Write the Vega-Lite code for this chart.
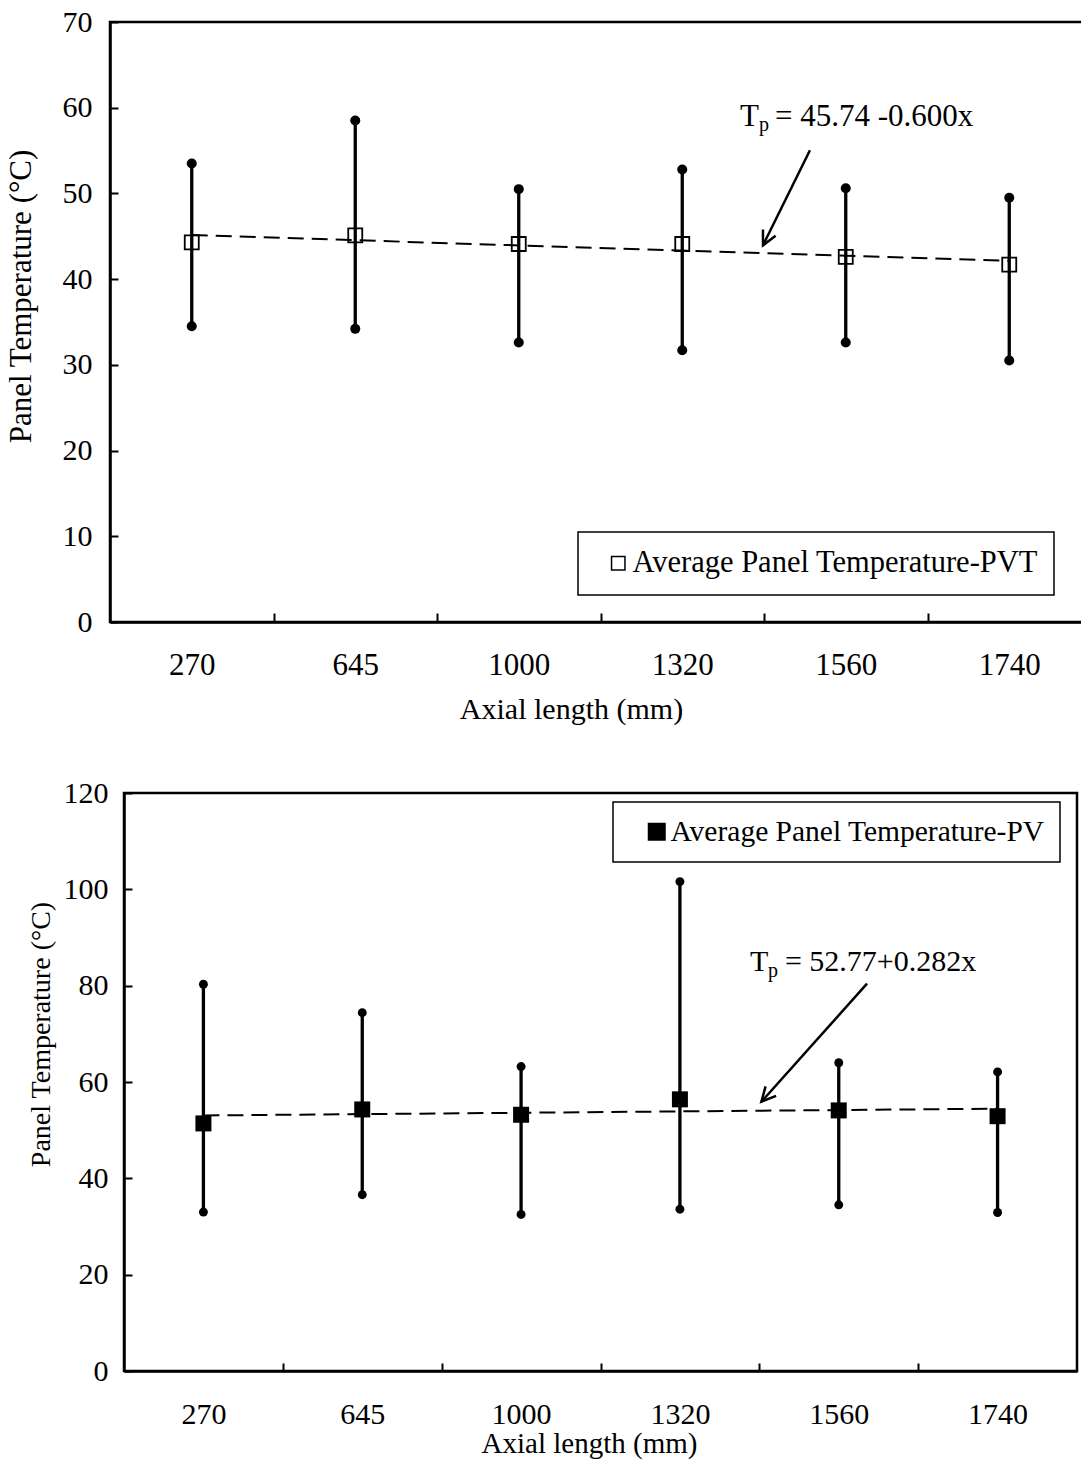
{
  "$schema": "https://vega.github.io/schema/vega-lite/v6.json",
  "padding": {"left": 3, "top": 5, "right": 0, "bottom": 0},
  "config": {
    "font": "Liberation Serif",
    "view": {"stroke": "black", "strokeWidth": 2.5},
    "axis": {"domainColor": "black", "domainWidth": 2.5, "tickColor": "black", "tickWidth": 2, "labelColor": "black", "titleColor": "black", "grid": false, "labelFont": "Liberation Serif", "titleFont": "Liberation Serif", "titleFontWeight": "normal"},
    "legend": {"strokeWidth": 1.5, "cornerRadius": 0}
  },
  "datasets": {
    "pvt": [
      {"idx": 1, "mean": 44.3, "min": 34.5, "max": 53.5, "series": "Average Panel Temperature-PVT"},
      {"idx": 2, "mean": 45.1, "min": 34.2, "max": 58.5, "series": "Average Panel Temperature-PVT"},
      {"idx": 3, "mean": 44.1, "min": 32.6, "max": 50.5, "series": "Average Panel Temperature-PVT"},
      {"idx": 4, "mean": 44.1, "min": 31.7, "max": 52.8, "series": "Average Panel Temperature-PVT"},
      {"idx": 5, "mean": 42.6, "min": 32.6, "max": 50.6, "series": "Average Panel Temperature-PVT"},
      {"idx": 6, "mean": 41.7, "min": 30.5, "max": 49.5, "series": "Average Panel Temperature-PVT"}
    ],
    "pvtTrend": [{"idx": 1, "t": 45.14}, {"idx": 6, "t": 42.14}],
    "pvtEq": [{"idx": 4.353, "val": 57.83, "label": "T"}, {"idx": 4.567, "val": 57.83, "label": "= 45.74 -0.600x"}],
    "pvtSub": [{"idx": 4.469, "val": 57.24, "label": "p"}],
    "pvtArrow": [{"idx": 4.781, "val": 55.03, "idx2": 4.494, "val2": 43.95}],
    "pvtHead": [{"idx": 4.494, "val": 43.95}],
    "pv": [
      {"idx": 1, "mean": 51.4, "min": 33.0, "max": 80.3, "series": "Average Panel Temperature-PV"},
      {"idx": 2, "mean": 54.3, "min": 36.6, "max": 74.4, "series": "Average Panel Temperature-PV"},
      {"idx": 3, "mean": 53.2, "min": 32.5, "max": 63.2, "series": "Average Panel Temperature-PV"},
      {"idx": 4, "mean": 56.4, "min": 33.6, "max": 101.6, "series": "Average Panel Temperature-PV"},
      {"idx": 5, "mean": 54.1, "min": 34.5, "max": 64.0, "series": "Average Panel Temperature-PV"},
      {"idx": 6, "mean": 52.9, "min": 32.9, "max": 62.1, "series": "Average Panel Temperature-PV"}
    ],
    "pvTrend": [{"idx": 1, "t": 53.05}, {"idx": 6, "t": 54.46}],
    "pvEq": [{"idx": 4.441, "val": 83.04, "label": "T"}, {"idx": 4.661, "val": 83.04, "label": "= 52.77+0.282x"}],
    "pvSub": [{"idx": 4.555, "val": 81.8, "label": "p"}],
    "pvArrow": [{"idx": 5.178, "val": 80.41, "idx2": 4.513, "val2": 55.91}],
    "pvHead": [{"idx": 4.513, "val": 55.91}]
  },
  "vconcat": [
    {
      "width": 981,
      "height": 600,
      "encoding": {
        "x": {
          "field": "idx", "type": "quantitative",
          "scale": {"domain": [0.5, 6.5], "nice": false, "zero": false},
          "axis": {
            "title": "Axial length (mm)",
            "values": [1, 1.5, 2, 2.5, 3, 3.5, 4, 4.5, 5, 5.5, 6],
            "labelExpr": "datum.value % 1 === 0 ? ['270','645','1000','1320','1560','1740'][datum.value - 1] : ''",
            "tickOpacity": {"condition": {"test": "datum.value % 1 === 0", "value": 0}, "value": 1},
            "tickSize": -9, "labelFontSize": 31, "labelPadding": 37, "labelOverlap": false, "labelFlush": false,
            "titleFontSize": 30, "titlePadding": 14, "titleX": 461, "titleAlign": "center"
          }
        }
      },
      "layer": [
        {
          "data": {"name": "pvt"},
          "mark": {"type": "rule", "color": "black", "strokeWidth": 3.3},
          "encoding": {
            "y": {"field": "min", "type": "quantitative", "title": "Panel Temperature (°C)", "scale": {"domain": [0, 70], "nice": false},
              "axis": {"title": "Panel Temperature (°C)", "values": [0, 10, 20, 30, 40, 50, 60, 70], "tickSize": -8, "labelFontSize": 30, "labelPadding": 26, "titleFontSize": 31, "titleX": -89, "titleY": 274, "titleAngle": -90, "titleAlign": "center", "titleBaseline": "middle"}},
            "y2": {"field": "max"}
          }
        },
        {
          "data": {"name": "pvt"},
          "mark": {"type": "point", "shape": "circle", "filled": true, "color": "black", "size": 100, "opacity": 1},
          "encoding": {"y": {"field": "min", "type": "quantitative", "title": "Panel Temperature (°C)", "scale": {"domain": [0, 70], "nice": false}}}
        },
        {
          "data": {"name": "pvt"},
          "mark": {"type": "point", "shape": "circle", "filled": true, "color": "black", "size": 100, "opacity": 1},
          "encoding": {"y": {"field": "max", "type": "quantitative", "title": "Panel Temperature (°C)", "scale": {"domain": [0, 70], "nice": false}}}
        },
        {
          "data": {"name": "pvtTrend"},
          "mark": {"type": "line", "color": "black", "strokeWidth": 2, "strokeDash": [16, 8]},
          "encoding": {"y": {"field": "t", "type": "quantitative", "title": "Panel Temperature (°C)", "scale": {"domain": [0, 70], "nice": false}}}
        },
        {
          "data": {"name": "pvt"},
          "mark": {"type": "point", "filled": false, "stroke": "black", "strokeWidth": 1.8, "size": 196, "opacity": 1},
          "encoding": {
            "y": {"field": "mean", "type": "quantitative", "title": "Panel Temperature (°C)", "scale": {"domain": [0, 70], "nice": false}},
            "shape": {"field": "series", "type": "nominal", "scale": {"range": ["square"]},
              "legend": {"title": null, "orient": "none", "legendX": 468, "legendY": 510, "strokeColor": "black", "fillColor": "white", "padding": 16, "labelFont": "Liberation Serif", "labelFontSize": 30.5, "labelColor": "black", "labelLimit": 0, "labelOffset": -1, "symbolSize": 180, "symbolStrokeColor": "black", "symbolStrokeWidth": 1.5, "symbolFillColor": "white", "symbolOffset": 9}}
          }
        },
        {
          "data": {"name": "pvtEq"},
          "mark": {"type": "text", "align": "left", "baseline": "alphabetic", "fontSize": 31, "color": "black"},
          "encoding": {"y": {"field": "val", "type": "quantitative", "title": "Panel Temperature (°C)", "scale": {"domain": [0, 70], "nice": false}}, "text": {"field": "label"}}
        },
        {
          "data": {"name": "pvtSub"},
          "mark": {"type": "text", "align": "left", "baseline": "alphabetic", "fontSize": 20, "color": "black"},
          "encoding": {"y": {"field": "val", "type": "quantitative", "title": "Panel Temperature (°C)", "scale": {"domain": [0, 70], "nice": false}}, "text": {"field": "label"}}
        },
        {
          "data": {"name": "pvtArrow"},
          "mark": {"type": "rule", "color": "black", "strokeWidth": 2.5},
          "encoding": {"y": {"field": "val", "type": "quantitative", "title": "Panel Temperature (°C)", "scale": {"domain": [0, 70], "nice": false}}, "x2": {"field": "idx2"}, "y2": {"field": "val2"}}
        },
        {
          "data": {"name": "pvtHead"},
          "mark": {"type": "point", "shape": "M -0.5 1 L 0 0 L 0.5 1", "filled": false, "stroke": "black", "strokeWidth": 2.5, "size": 800, "angle": 206.3, "opacity": 1},
          "encoding": {"y": {"field": "val", "type": "quantitative", "title": "Panel Temperature (°C)", "scale": {"domain": [0, 70], "nice": false}}}
        }
      ]
    },
    {
      "width": 953,
      "height": 578,
      "encoding": {
        "x": {
          "field": "idx", "type": "quantitative",
          "scale": {"domain": [0.5, 6.5], "nice": false, "zero": false},
          "axis": {
            "title": "Axial length (mm)",
            "values": [1, 1.5, 2, 2.5, 3, 3.5, 4, 4.5, 5, 5.5, 6],
            "labelExpr": "datum.value % 1 === 0 ? ['270','645','1000','1320','1560','1740'][datum.value - 1] : ''",
            "tickOpacity": {"condition": {"test": "datum.value % 1 === 0", "value": 0}, "value": 1},
            "tickSize": -8, "labelFontSize": 30, "labelPadding": 36, "labelOverlap": false, "labelFlush": false,
            "titleFontSize": 29, "titlePadding": 0, "titleX": 465, "titleAlign": "center"
          }
        }
      },
      "layer": [
        {
          "data": {"name": "pv"},
          "mark": {"type": "rule", "color": "black", "strokeWidth": 3.3},
          "encoding": {
            "y": {"field": "min", "type": "quantitative", "title": "Panel Temperature (°C)", "scale": {"domain": [0, 120], "nice": false},
              "axis": {"title": "Panel Temperature (°C)", "values": [0, 20, 40, 60, 80, 100, 120], "tickSize": -8, "labelFontSize": 30, "labelPadding": 24, "titleFontSize": 28, "titleX": -83, "titleY": 241, "titleAngle": -90, "titleAlign": "center", "titleBaseline": "middle"}},
            "y2": {"field": "max"}
          }
        },
        {
          "data": {"name": "pv"},
          "mark": {"type": "point", "shape": "circle", "filled": true, "color": "black", "size": 80, "opacity": 1},
          "encoding": {"y": {"field": "min", "type": "quantitative", "title": "Panel Temperature (°C)", "scale": {"domain": [0, 120], "nice": false}}}
        },
        {
          "data": {"name": "pv"},
          "mark": {"type": "point", "shape": "circle", "filled": true, "color": "black", "size": 80, "opacity": 1},
          "encoding": {"y": {"field": "max", "type": "quantitative", "title": "Panel Temperature (°C)", "scale": {"domain": [0, 120], "nice": false}}}
        },
        {
          "data": {"name": "pvTrend"},
          "mark": {"type": "line", "color": "black", "strokeWidth": 2, "strokeDash": [16, 8]},
          "encoding": {"y": {"field": "t", "type": "quantitative", "title": "Panel Temperature (°C)", "scale": {"domain": [0, 120], "nice": false}}}
        },
        {
          "data": {"name": "pv"},
          "mark": {"type": "point", "filled": true, "color": "black", "size": 256, "opacity": 1},
          "encoding": {
            "y": {"field": "mean", "type": "quantitative", "title": "Panel Temperature (°C)", "scale": {"domain": [0, 120], "nice": false}},
            "shape": {"field": "series", "type": "nominal", "scale": {"range": ["square"]},
              "legend": {"title": null, "orient": "none", "legendX": 489, "legendY": 9, "strokeColor": "black", "fillColor": "white", "padding": 15, "labelFont": "Liberation Serif", "labelFontSize": 29.5, "labelColor": "black", "labelLimit": 0, "labelOffset": -1, "symbolSize": 324, "symbolStrokeColor": "black", "symbolStrokeWidth": 0, "symbolFillColor": "black", "symbolOffset": 14}}
          }
        },
        {
          "data": {"name": "pvEq"},
          "mark": {"type": "text", "align": "left", "baseline": "alphabetic", "fontSize": 30, "color": "black"},
          "encoding": {"y": {"field": "val", "type": "quantitative", "title": "Panel Temperature (°C)", "scale": {"domain": [0, 120], "nice": false}}, "text": {"field": "label"}}
        },
        {
          "data": {"name": "pvSub"},
          "mark": {"type": "text", "align": "left", "baseline": "alphabetic", "fontSize": 20, "color": "black"},
          "encoding": {"y": {"field": "val", "type": "quantitative", "title": "Panel Temperature (°C)", "scale": {"domain": [0, 120], "nice": false}}, "text": {"field": "label"}}
        },
        {
          "data": {"name": "pvArrow"},
          "mark": {"type": "rule", "color": "black", "strokeWidth": 2.5},
          "encoding": {"y": {"field": "val", "type": "quantitative", "title": "Panel Temperature (°C)", "scale": {"domain": [0, 120], "nice": false}}, "x2": {"field": "idx2"}, "y2": {"field": "val2"}}
        },
        {
          "data": {"name": "pvHead"},
          "mark": {"type": "point", "shape": "M -0.5 1 L 0 0 L 0.5 1", "filled": false, "stroke": "black", "strokeWidth": 2.5, "size": 800, "angle": 221.8, "opacity": 1},
          "encoding": {"y": {"field": "val", "type": "quantitative", "title": "Panel Temperature (°C)", "scale": {"domain": [0, 120], "nice": false}}}
        }
      ]
    }
  ],
  "spacing": 171,
  "bounds": "flush",
  "center": true,
  "resolve": {"scale": {"shape": "independent"}, "legend": {"shape": "independent"}}
}
